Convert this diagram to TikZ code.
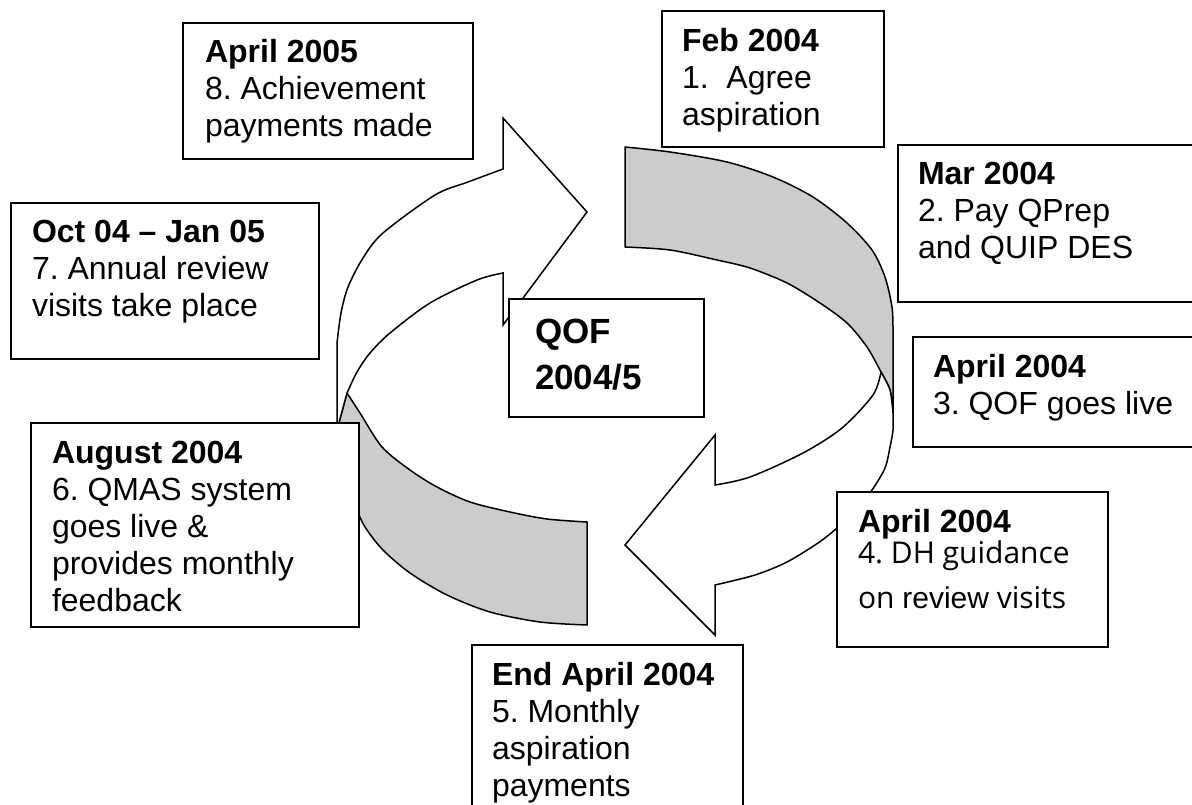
\documentclass[tikz,border=0pt]{standalone}
\usepackage{fontspec}
\setmainfont{Liberation Sans}
\newfontfamily\lightfont{Open Sans}
\definecolor{bandgrey}{HTML}{CCCCCC}
\frenchspacing
\newcommand\boxtext[1]{\parbox[t]{400pt}{\fontsize{32}{37}\selectfont\lineskiplimit=-100pt\raggedright\frenchspacing #1}}
\newcommand\lt[1]{{\lightfont\fontsize{30}{31}\selectfont #1}}
\begin{document}
\begin{tikzpicture}[x=1pt,y=-1pt,
  box/.style={draw=black,line width=1.5pt,fill=white,anchor=north west,inner sep=0pt,outer sep=0pt},
  txt/.style={anchor=base west,inner sep=0pt,outer sep=0pt},
  band/.style={draw=black,line width=1.5pt,fill=bandgrey,line join=round},
  curved/.style={draw=black,line width=1.5pt,fill=white,line join=miter}]
\useasboundingbox (0,0) rectangle (1192,805);
\clip (0,0) rectangle (1192,805);

% grey band lower left
\path[band] (347,393) -- plot[smooth] coordinates {(347,393) (360,413) (382,447) (410,470) (437,487) (470,502) (510,512) (547,519) (587,522)}
  -- (587,625) -- plot[smooth] coordinates {(587,625) (540,622) (490,612) (447,595) (410,573) (383,550) (365,527) (355,505) (345,475) (337,440)}
  -- (337,430) -- cycle;
% white arrow upper left
\path[curved] (337,430) -- (337,343) -- plot[smooth] coordinates {(337,343) (341,313) (348,287) (363,258) (383,233) (435,195) (468,182) (503,169)}
  -- (503,118) -- (587,212) -- (503,325) -- (503,273)
  -- plot[smooth] coordinates {(503,273) (477,280) (430,303) (390,333) (370,353) (357,372) (347,393)} -- cycle;
% grey band upper right
\path[band] (625,147) -- plot[smooth] coordinates {(625,147) (670,152) (727,162) (773,177) (813,197) (847,223) (872,250) (885,277) (892,307) (893,330)}
  -- (893,413) -- plot[smooth] coordinates {(893,413) (890,390) (881,372) (867,347) (847,323) (820,303) (787,283) (750,268) (717,260) (670,250) (625,247)} -- cycle;
% white arrow lower right
\path[curved] (881,372) -- plot[smooth] coordinates {(881,372) (890,390) (893,413)}
  -- plot[smooth] coordinates {(893,413) (893,430) (890,447) (885,468) (872,490) (855,510) (837,528) (818,543) (787,562) (755,575) (715,585)}
  -- (715,635) -- (625,545) -- (715,435) -- (715,485)
  -- plot[smooth] coordinates {(715,485) (750,477) (803,453) (842,428) (873,395) (881,372)} -- cycle;

% boxes
\node[box,minimum width=290pt,minimum height=136pt] (b8) at (183,23) {};
\node[box,minimum width=222pt,minimum height=136pt] (b1) at (662,11) {};
\node[box,minimum width=310pt,minimum height=157pt] (b2) at (898,145) {};
\node[box,minimum width=308pt,minimum height=156pt] (b7) at (11,203) {};
\node[box,minimum width=195pt,minimum height=118pt] (bq) at (509,299) {};
\node[box,minimum width=310pt,minimum height=110pt] (b3) at (913,337) {};
\node[box,minimum width=328pt,minimum height=204pt] (b6) at (31,423) {};
\node[box,minimum width=271pt,minimum height=155pt] (b4) at (837,492) {};
\node[box,minimum width=271pt,minimum height=200pt] (b5) at (472,645) {};

% texts
\node[txt] (t8) at (205,63) {\boxtext{\textbf{April 2005}\\8. Achievement\\payments made}};
\node[txt] (t1) at (682,52) {\boxtext{\textbf{Feb 2004}\\1.\ \ Agree\\aspiration}};
\node[txt] (t2) at (918,185) {\boxtext{\textbf{Mar 2004}\\2. Pay QPrep\\and QUIP DES}};
\node[txt] (t7) at (32,243) {\boxtext{\textbf{Oct 04 \textendash\ Jan 05}\\7. Annual review\\visits take place}};
\node[txt] (tq) at (535,343) {\parbox[t]{200pt}{\fontsize{35}{47}\selectfont\lineskiplimit=-100pt\bfseries QOF\\2004/5}};
\node[txt] (t3) at (933,377) {\boxtext{\textbf{April 2004}\\3. QOF goes live}};
\node[txt] (t6) at (52,463) {\boxtext{\textbf{August 2004}\\6. QMAS system\\goes live \&\\provides monthly\\feedback}};
\node[txt] (t4) at (858,532) {\parbox[t]{300pt}{\fontsize{32}{31}\selectfont\lineskiplimit=-100pt\raggedright\frenchspacing\textbf{April 2004}\\\lt{4. DH guidance}\\[14pt]\lt{on }{\fontsize{30}{31}\selectfont review}\lt{ visits}}};
\node[txt] (t5) at (492,685) {\boxtext{\textbf{End April 2004}\\5. Monthly\\aspiration\\payments}};
\end{tikzpicture}
\end{document}
